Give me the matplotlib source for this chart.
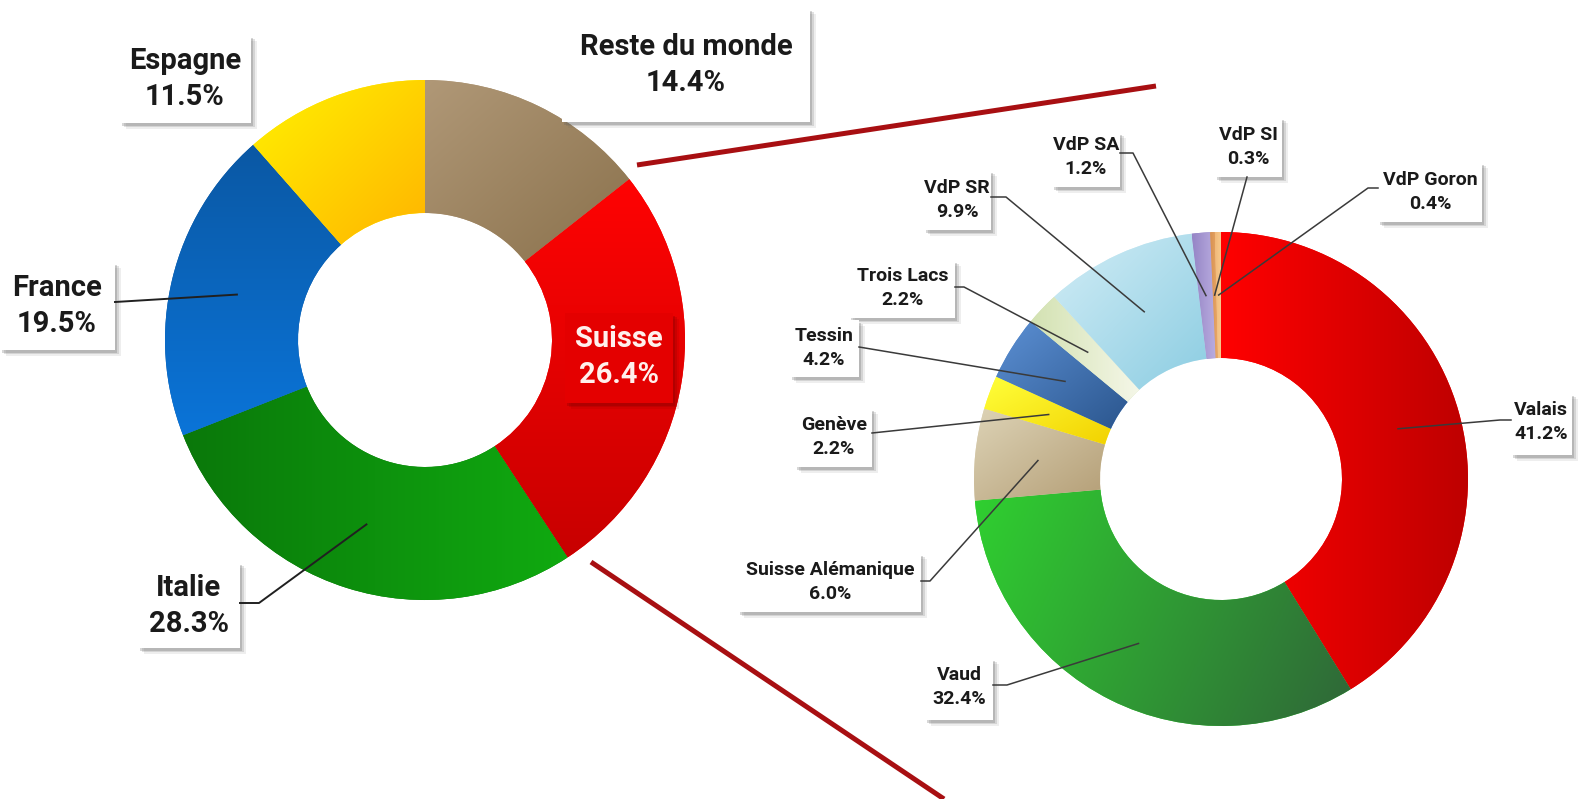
import numpy as np
import matplotlib
matplotlib.use("Agg")
import matplotlib.pyplot as plt
from matplotlib.colors import LinearSegmentedColormap
from matplotlib.patches import Rectangle

# ---------------- data ----------------
world_labels = ['Reste du monde', 'Suisse', 'Italie', 'France', 'Espagne']
world_values = [14.4, 26.4, 28.3, 19.5, 11.5]
world_colors = [('#B09877', '#8A714C'), ('#FF0303', '#C80000'), ('#0A780A', '#10AA10'),
                ('#0A58A4', '#0B74D8'), ('#FFF200', '#FFB400')]
world_grad_dir = [(1, -1), (0, -1), (1, 0), (0, -1), (1, -1)]

swiss_labels = ['Valais', 'Vaud', 'Suisse Alémanique', 'Genève', 'Tessin', 'Trois Lacs',
                'VdP SR', 'VdP SA', 'VdP SI', 'VdP Goron']
swiss_values = [41.2, 32.4, 6.0, 2.2, 4.2, 2.2, 9.9, 1.2, 0.3, 0.4]
swiss_colors = [('#FF0000', '#BE0000'), ('#30D030', '#2F6638'), ('#DDD3B6', '#B49E76'),
                ('#FFFF3A', '#F2D200'), ('#5C90D4', '#2B568E'), ('#D3E2B2', '#F5F7E8'),
                ('#D2EDF6', '#8CCDE2'), ('#9585C6', '#BBAEE0'), ('#D89050', '#E8A868'),
                ('#F2B878', '#F6CC90')]
swiss_grad_dir = [(1, 0), (1, -0.3), (1, -1), (1, -1), (1, -1), (1, 0),
                  (1, -1), (1, 0), (1, 0), (1, 0)]

W, H = 1583, 799
FONT = ['Roboto', 'DejaVu Sans']

fig = plt.figure(figsize=(W / 100, H / 100), dpi=100)
fig.patch.set_facecolor('white')
ax = fig.add_axes([0, 0, 1, 1])


def Y(y):
    return H - y


def draw_donut(values, colors, dirs, cx, cy, R, r_in):
    wedges, _ = ax.pie(values, colors=[c[0] for c in colors], startangle=90,
                       counterclock=False, radius=R, center=(cx, Y(cy)),
                       wedgeprops=dict(width=R - r_in, linewidth=0))
    for w, (c1, c2), d in zip(wedges, colors, dirs):
        ext = w.get_path().get_extents()
        x0, y0, x1, y1 = ext.x0, ext.y0, ext.x1, ext.y1
        n = 160
        xs = np.linspace(0, 1, n)
        ys = np.linspace(0, 1, n)
        XX, YY = np.meshgrid(xs, ys)
        dx, dy = d
        t = XX * dx + YY * dy
        t = (t - t.min()) / (t.max() - t.min() + 1e-9)
        cmap = LinearSegmentedColormap.from_list('g', [c1, c2])
        im = ax.imshow(t, extent=[x0, x1, y0, y1], origin='lower', cmap=cmap,
                       aspect='auto', zorder=2, interpolation='bilinear')
        im.set_clip_path(w)
    return wedges


def anchor(values, idx, cx, cy, R, r_in):
    tot = sum(values)
    cum = sum(values[:idx]) + values[idx] / 2
    ang = np.deg2rad(90 - cum / tot * 360)
    rm = (R + r_in) / 2
    return cx + rm * np.cos(ang), cy - rm * np.sin(ang)


def box(x0, y0, x1, y1, face='white', shadow='#606060'):
    for off, a in ((6, 0.10), (4, 0.18), (2.5, 0.25)):
        ax.add_patch(Rectangle((x0 + off, Y(y1 + off)), x1 - x0, y1 - y0,
                               facecolor=shadow, edgecolor='none', alpha=a, zorder=5))
    ax.add_patch(Rectangle((x0, Y(y1)), x1 - x0, y1 - y0, facecolor=face,
                           edgecolor='none', zorder=6))


# connector lines between the two charts
ax.plot([637, 1156], [Y(165), Y(86)], color='#A80F12', lw=3.6, zorder=1,
        solid_capstyle='butt')
ax.plot([591, 944], [Y(562), Y(799)], color='#A80F12', lw=3.6, zorder=1,
        solid_capstyle='butt')

# ---------------- left donut ----------------
LCX, LCY, LR, LRI = 425, 340, 260, 127
draw_donut(world_values, world_colors, world_grad_dir, LCX, LCY, LR, LRI)

world_layout = {
    'Reste du monde': ((562, 8, 810, 122), (686, 65), None),
    'Suisse': ((565, 313, 673, 403), (619, 357), None),
    'Italie': ((138, 562, 240, 648), (189, 606), [(240, 603), (259, 603)]),
    'France': ((0, 262, 115, 350), (57, 306), [(115, 302)]),
    'Espagne': ((120, 35, 251, 123), (185, 79), None),
}
for i, (lab, val) in enumerate(zip(world_labels, world_values)):
    (bx0, by0, bx1, by1), (tx, ty), lead = world_layout[lab]
    if lab == 'Suisse':
        box(bx0, by0, bx1, by1, face='#E40000', shadow='#7A0000')
        tcol = '#FFF0EC'
    else:
        box(bx0, by0, bx1, by1)
        tcol = '#1A1A1A'
    ax.text(tx, Y(ty), f"{lab}\n{val:.1f}%", ha='center', va='center',
            multialignment='center', fontsize=21, fontweight='bold', family=FONT,
            color=tcol, linespacing=1.4, zorder=8)
    if lead:
        ax_, ay_ = anchor(world_values, i, LCX, LCY, LR, LRI)
        pts = lead + [(ax_, ay_)]
        ax.plot([p[0] for p in pts], [Y(p[1]) for p in pts], color='#202020',
                lw=1.4, zorder=7)

# ---------------- right donut ----------------
RCX, RCY, RR, RRI = 1221, 479, 247, 121
draw_donut(swiss_values, swiss_colors, swiss_grad_dir, RCX, RCY, RR, RRI)

swiss_layout = {
    'Valais': ((1511, 393, 1572, 455), (1541, 422), [(1511, 420), (1500, 420)]),
    'Vaud': ((925, 658, 993, 720), (959, 687), [(993, 685), (1007, 685)]),
    'Suisse Alémanique': ((738, 553, 921, 612), (830, 582), [(921, 581), (930, 581)]),
    'Genève': ((795, 408, 872, 467), (834, 437), [(872, 433)]),
    'Tessin': ((790, 320, 859, 377), (824, 348), [(859, 347)]),
    'Trois Lacs': ((849, 260, 955, 318), (903, 288), [(955, 287), (964, 287)]),
    'VdP SR': ((924, 170, 991, 230), (957, 200), [(991, 197), (1006, 197)]),
    'VdP SA': ((1052, 132, 1120, 187), (1086, 157), [(1120, 153), (1133, 153)]),
    'VdP SI': ((1215, 117, 1282, 177), (1248, 147), [(1247, 177)]),
    'VdP Goron': ((1378, 162, 1482, 222), (1430, 192), [(1378, 188), (1368, 188)]),
}
for i, (lab, val) in enumerate(zip(swiss_labels, swiss_values)):
    (bx0, by0, bx1, by1), (tx, ty), lead = swiss_layout[lab]
    box(bx0, by0, bx1, by1)
    ax.text(tx, Y(ty), f"{lab}\n{val:.1f}%", ha='center', va='center',
            multialignment='center', fontsize=14, fontweight='bold', family=FONT,
            color='#1A1A1A', linespacing=1.45, zorder=8)
    ax_, ay_ = anchor(swiss_values, i, RCX, RCY, RR, RRI)
    pts = lead + [(ax_, ay_)]
    ax.plot([p[0] for p in pts], [Y(p[1]) for p in pts], color='#3A3A3A',
            lw=1.1, zorder=7)

ax.set_aspect('auto')
ax.set_xlim(0, W)
ax.set_ylim(0, H)
ax.axis('off')

fig.savefig('out.png', dpi=100, facecolor='white')
